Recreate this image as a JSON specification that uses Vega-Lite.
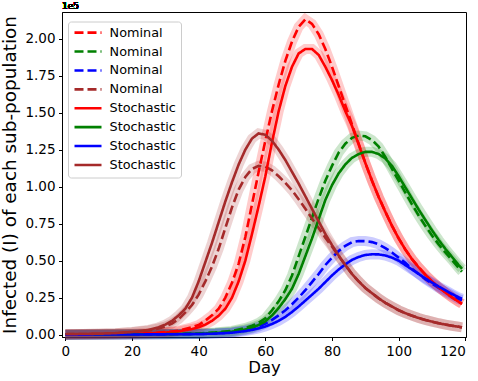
{
"$schema":"https://vega.github.io/schema/vega-lite/v6.json",
"width":404,"height":325,
"autosize":{"type":"none"},
"padding":{"left":62,"top":12,"right":12,"bottom":44},
"config":{"view":{"stroke":"#000","strokeWidth":1},"font":"DejaVu Sans",
"axis":{"grid":false,"labelFontSize":13.5,"titleFontSize":16.5,"tickSize":3.5,"labelPadding":3.5,"titleFontWeight":"normal","domainColor":"#000","tickColor":"#000","labelColor":"#000","titleColor":"#000","labelFont":"DejaVu Sans","titleFont":"DejaVu Sans"}},
"datasets":{"curves":[
{"day":0,"series":"Nominal red","I":100},{"day":10,"series":"Nominal red","I":200},{"day":15,"series":"Nominal red","I":400},{"day":20,"series":"Nominal red","I":600},{"day":25,"series":"Nominal red","I":1000},{"day":30,"series":"Nominal red","I":1700},{"day":34,"series":"Nominal red","I":2700},{"day":38,"series":"Nominal red","I":5000},{"day":40,"series":"Nominal red","I":6500},{"day":42,"series":"Nominal red","I":9500},{"day":44,"series":"Nominal red","I":13000},{"day":46,"series":"Nominal red","I":17500},{"day":48,"series":"Nominal red","I":25000},{"day":50,"series":"Nominal red","I":35000},{"day":52,"series":"Nominal red","I":48000},{"day":54,"series":"Nominal red","I":66000},{"day":56,"series":"Nominal red","I":88000},{"day":58,"series":"Nominal red","I":110000},{"day":60,"series":"Nominal red","I":131000},{"day":62,"series":"Nominal red","I":151000},{"day":64,"series":"Nominal red","I":169000},{"day":66,"series":"Nominal red","I":185000},{"day":68,"series":"Nominal red","I":198000},{"day":70,"series":"Nominal red","I":208000},{"day":72,"series":"Nominal red","I":213000},{"day":74,"series":"Nominal red","I":210000},{"day":76,"series":"Nominal red","I":203000},{"day":78,"series":"Nominal red","I":193000},{"day":80,"series":"Nominal red","I":181000},{"day":82,"series":"Nominal red","I":168000},{"day":84,"series":"Nominal red","I":155000},{"day":86,"series":"Nominal red","I":142000},{"day":88,"series":"Nominal red","I":129000},{"day":90,"series":"Nominal red","I":116000},{"day":92,"series":"Nominal red","I":104000},{"day":94,"series":"Nominal red","I":93000},{"day":96,"series":"Nominal red","I":83000},{"day":98,"series":"Nominal red","I":73500},{"day":100,"series":"Nominal red","I":65000},{"day":102,"series":"Nominal red","I":57500},{"day":104,"series":"Nominal red","I":51000},{"day":106,"series":"Nominal red","I":45500},{"day":108,"series":"Nominal red","I":40500},{"day":110,"series":"Nominal red","I":36000},{"day":112,"series":"Nominal red","I":32000},{"day":114,"series":"Nominal red","I":28500},{"day":116,"series":"Nominal red","I":25200},{"day":118,"series":"Nominal red","I":22200},{"day":119,"series":"Nominal red","I":20800},
{"day":0,"series":"Nominal green","I":0},{"day":10,"series":"Nominal green","I":100},{"day":20,"series":"Nominal green","I":200},{"day":30,"series":"Nominal green","I":400},{"day":40,"series":"Nominal green","I":800},{"day":45,"series":"Nominal green","I":1500},{"day":50,"series":"Nominal green","I":2500},{"day":54,"series":"Nominal green","I":4500},{"day":56,"series":"Nominal green","I":6000},{"day":58,"series":"Nominal green","I":8000},{"day":60,"series":"Nominal green","I":11000},{"day":62,"series":"Nominal green","I":16500},{"day":64,"series":"Nominal green","I":22500},{"day":66,"series":"Nominal green","I":30000},{"day":68,"series":"Nominal green","I":40000},{"day":70,"series":"Nominal green","I":53000},{"day":72,"series":"Nominal green","I":66000},{"day":74,"series":"Nominal green","I":79000},{"day":76,"series":"Nominal green","I":92000},{"day":78,"series":"Nominal green","I":104000},{"day":80,"series":"Nominal green","I":114000},{"day":82,"series":"Nominal green","I":123000},{"day":84,"series":"Nominal green","I":129000},{"day":86,"series":"Nominal green","I":133000},{"day":88,"series":"Nominal green","I":134500},{"day":90,"series":"Nominal green","I":134000},{"day":92,"series":"Nominal green","I":131500},{"day":94,"series":"Nominal green","I":127000},{"day":96,"series":"Nominal green","I":120000},{"day":98,"series":"Nominal green","I":112000},{"day":100,"series":"Nominal green","I":104000},{"day":102,"series":"Nominal green","I":96000},{"day":104,"series":"Nominal green","I":88000},{"day":106,"series":"Nominal green","I":80500},{"day":108,"series":"Nominal green","I":73500},{"day":110,"series":"Nominal green","I":67000},{"day":112,"series":"Nominal green","I":61000},{"day":114,"series":"Nominal green","I":55500},{"day":116,"series":"Nominal green","I":50500},{"day":118,"series":"Nominal green","I":45000},{"day":119,"series":"Nominal green","I":42500},
{"day":0,"series":"Nominal blue","I":0},{"day":20,"series":"Nominal blue","I":100},{"day":30,"series":"Nominal blue","I":200},{"day":40,"series":"Nominal blue","I":400},{"day":45,"series":"Nominal blue","I":700},{"day":50,"series":"Nominal blue","I":1500},{"day":54,"series":"Nominal blue","I":3000},{"day":56,"series":"Nominal blue","I":4000},{"day":58,"series":"Nominal blue","I":5500},{"day":60,"series":"Nominal blue","I":7500},{"day":62,"series":"Nominal blue","I":10000},{"day":64,"series":"Nominal blue","I":13000},{"day":66,"series":"Nominal blue","I":16500},{"day":68,"series":"Nominal blue","I":20500},{"day":70,"series":"Nominal blue","I":25000},{"day":72,"series":"Nominal blue","I":30000},{"day":74,"series":"Nominal blue","I":35500},{"day":76,"series":"Nominal blue","I":41000},{"day":78,"series":"Nominal blue","I":47000},{"day":80,"series":"Nominal blue","I":52000},{"day":82,"series":"Nominal blue","I":56500},{"day":84,"series":"Nominal blue","I":60000},{"day":86,"series":"Nominal blue","I":62500},{"day":88,"series":"Nominal blue","I":63300},{"day":90,"series":"Nominal blue","I":63200},{"day":92,"series":"Nominal blue","I":62500},{"day":94,"series":"Nominal blue","I":61000},{"day":96,"series":"Nominal blue","I":58500},{"day":98,"series":"Nominal blue","I":55500},{"day":100,"series":"Nominal blue","I":52000},{"day":102,"series":"Nominal blue","I":48500},{"day":104,"series":"Nominal blue","I":44500},{"day":106,"series":"Nominal blue","I":41000},{"day":108,"series":"Nominal blue","I":37500},{"day":110,"series":"Nominal blue","I":34500},{"day":112,"series":"Nominal blue","I":31500},{"day":114,"series":"Nominal blue","I":29000},{"day":116,"series":"Nominal blue","I":26500},{"day":118,"series":"Nominal blue","I":24000},{"day":119,"series":"Nominal blue","I":23200},
{"day":0,"series":"Nominal brown","I":300},{"day":5,"series":"Nominal brown","I":400},{"day":10,"series":"Nominal brown","I":600},{"day":15,"series":"Nominal brown","I":900},{"day":20,"series":"Nominal brown","I":1600},{"day":25,"series":"Nominal brown","I":2800},{"day":28,"series":"Nominal brown","I":4200},{"day":30,"series":"Nominal brown","I":5500},{"day":32,"series":"Nominal brown","I":7500},{"day":34,"series":"Nominal brown","I":10500},{"day":36,"series":"Nominal brown","I":15000},{"day":38,"series":"Nominal brown","I":20000},{"day":40,"series":"Nominal brown","I":27000},{"day":42,"series":"Nominal brown","I":36000},{"day":44,"series":"Nominal brown","I":46000},{"day":46,"series":"Nominal brown","I":58000},{"day":48,"series":"Nominal brown","I":72000},{"day":50,"series":"Nominal brown","I":86000},{"day":52,"series":"Nominal brown","I":98000},{"day":54,"series":"Nominal brown","I":106500},{"day":56,"series":"Nominal brown","I":112000},{"day":58,"series":"Nominal brown","I":114000},{"day":60,"series":"Nominal brown","I":113500},{"day":62,"series":"Nominal brown","I":111000},{"day":64,"series":"Nominal brown","I":107000},{"day":66,"series":"Nominal brown","I":102500},{"day":68,"series":"Nominal brown","I":97500},{"day":70,"series":"Nominal brown","I":91500},{"day":72,"series":"Nominal brown","I":85000},{"day":74,"series":"Nominal brown","I":78500},{"day":76,"series":"Nominal brown","I":72000},{"day":78,"series":"Nominal brown","I":65500},{"day":80,"series":"Nominal brown","I":59500},{"day":82,"series":"Nominal brown","I":53000},{"day":84,"series":"Nominal brown","I":47000},{"day":86,"series":"Nominal brown","I":41000},{"day":88,"series":"Nominal brown","I":36000},{"day":90,"series":"Nominal brown","I":31500},{"day":92,"series":"Nominal brown","I":28000},{"day":94,"series":"Nominal brown","I":24500},{"day":96,"series":"Nominal brown","I":21500},{"day":98,"series":"Nominal brown","I":19000},{"day":100,"series":"Nominal brown","I":16500},{"day":102,"series":"Nominal brown","I":14500},{"day":104,"series":"Nominal brown","I":12800},{"day":106,"series":"Nominal brown","I":11200},{"day":108,"series":"Nominal brown","I":9900},{"day":110,"series":"Nominal brown","I":8800},{"day":112,"series":"Nominal brown","I":7700},{"day":114,"series":"Nominal brown","I":6800},{"day":116,"series":"Nominal brown","I":6000},{"day":118,"series":"Nominal brown","I":5300},{"day":119,"series":"Nominal brown","I":4900},
{"day":0,"series":"Stochastic red","I":100},{"day":10,"series":"Stochastic red","I":200},{"day":15,"series":"Stochastic red","I":300},{"day":20,"series":"Stochastic red","I":500},{"day":25,"series":"Stochastic red","I":800},{"day":30,"series":"Stochastic red","I":1400},{"day":34,"series":"Stochastic red","I":2200},{"day":38,"series":"Stochastic red","I":3800},{"day":40,"series":"Stochastic red","I":5000},{"day":42,"series":"Stochastic red","I":6800},{"day":44,"series":"Stochastic red","I":9300},{"day":46,"series":"Stochastic red","I":12800},{"day":48,"series":"Stochastic red","I":17500},{"day":50,"series":"Stochastic red","I":25000},{"day":52,"series":"Stochastic red","I":36000},{"day":54,"series":"Stochastic red","I":50000},{"day":56,"series":"Stochastic red","I":68000},{"day":58,"series":"Stochastic red","I":87000},{"day":60,"series":"Stochastic red","I":107000},{"day":62,"series":"Stochastic red","I":130000},{"day":64,"series":"Stochastic red","I":151000},{"day":66,"series":"Stochastic red","I":168000},{"day":68,"series":"Stochastic red","I":181000},{"day":70,"series":"Stochastic red","I":190000},{"day":72,"series":"Stochastic red","I":193000},{"day":74,"series":"Stochastic red","I":193000},{"day":76,"series":"Stochastic red","I":189000},{"day":78,"series":"Stochastic red","I":181000},{"day":80,"series":"Stochastic red","I":172000},{"day":82,"series":"Stochastic red","I":162000},{"day":84,"series":"Stochastic red","I":151000},{"day":86,"series":"Stochastic red","I":141000},{"day":88,"series":"Stochastic red","I":128500},{"day":90,"series":"Stochastic red","I":116000},{"day":92,"series":"Stochastic red","I":104000},{"day":94,"series":"Stochastic red","I":93000},{"day":96,"series":"Stochastic red","I":83000},{"day":98,"series":"Stochastic red","I":73500},{"day":100,"series":"Stochastic red","I":65000},{"day":102,"series":"Stochastic red","I":57500},{"day":104,"series":"Stochastic red","I":51000},{"day":106,"series":"Stochastic red","I":45500},{"day":108,"series":"Stochastic red","I":40500},{"day":110,"series":"Stochastic red","I":36000},{"day":112,"series":"Stochastic red","I":32000},{"day":114,"series":"Stochastic red","I":28500},{"day":116,"series":"Stochastic red","I":25200},{"day":118,"series":"Stochastic red","I":22200},{"day":119,"series":"Stochastic red","I":20800},
{"day":0,"series":"Stochastic green","I":0},{"day":20,"series":"Stochastic green","I":200},{"day":30,"series":"Stochastic green","I":300},{"day":40,"series":"Stochastic green","I":600},{"day":45,"series":"Stochastic green","I":1100},{"day":50,"series":"Stochastic green","I":2000},{"day":54,"series":"Stochastic green","I":3500},{"day":56,"series":"Stochastic green","I":4700},{"day":58,"series":"Stochastic green","I":6500},{"day":60,"series":"Stochastic green","I":9000},{"day":62,"series":"Stochastic green","I":13000},{"day":64,"series":"Stochastic green","I":18000},{"day":66,"series":"Stochastic green","I":24000},{"day":68,"series":"Stochastic green","I":31000},{"day":70,"series":"Stochastic green","I":41000},{"day":72,"series":"Stochastic green","I":53000},{"day":74,"series":"Stochastic green","I":65000},{"day":76,"series":"Stochastic green","I":78000},{"day":78,"series":"Stochastic green","I":91000},{"day":80,"series":"Stochastic green","I":101000},{"day":82,"series":"Stochastic green","I":109000},{"day":84,"series":"Stochastic green","I":115000},{"day":86,"series":"Stochastic green","I":119500},{"day":88,"series":"Stochastic green","I":122000},{"day":90,"series":"Stochastic green","I":123500},{"day":92,"series":"Stochastic green","I":123500},{"day":94,"series":"Stochastic green","I":122000},{"day":96,"series":"Stochastic green","I":119000},{"day":98,"series":"Stochastic green","I":114000},{"day":100,"series":"Stochastic green","I":107000},{"day":102,"series":"Stochastic green","I":99500},{"day":104,"series":"Stochastic green","I":92000},{"day":106,"series":"Stochastic green","I":84500},{"day":108,"series":"Stochastic green","I":77500},{"day":110,"series":"Stochastic green","I":70500},{"day":112,"series":"Stochastic green","I":64000},{"day":114,"series":"Stochastic green","I":58000},{"day":116,"series":"Stochastic green","I":52500},{"day":118,"series":"Stochastic green","I":47000},{"day":119,"series":"Stochastic green","I":44500},
{"day":0,"series":"Stochastic blue","I":0},{"day":20,"series":"Stochastic blue","I":100},{"day":30,"series":"Stochastic blue","I":200},{"day":40,"series":"Stochastic blue","I":400},{"day":45,"series":"Stochastic blue","I":700},{"day":50,"series":"Stochastic blue","I":1300},{"day":54,"series":"Stochastic blue","I":2400},{"day":56,"series":"Stochastic blue","I":3200},{"day":58,"series":"Stochastic blue","I":4200},{"day":60,"series":"Stochastic blue","I":5500},{"day":62,"series":"Stochastic blue","I":7200},{"day":64,"series":"Stochastic blue","I":9300},{"day":66,"series":"Stochastic blue","I":12000},{"day":68,"series":"Stochastic blue","I":15300},{"day":70,"series":"Stochastic blue","I":19000},{"day":72,"series":"Stochastic blue","I":23000},{"day":74,"series":"Stochastic blue","I":27000},{"day":76,"series":"Stochastic blue","I":31000},{"day":78,"series":"Stochastic blue","I":35500},{"day":80,"series":"Stochastic blue","I":40000},{"day":82,"series":"Stochastic blue","I":44000},{"day":84,"series":"Stochastic blue","I":47500},{"day":86,"series":"Stochastic blue","I":50500},{"day":88,"series":"Stochastic blue","I":52500},{"day":90,"series":"Stochastic blue","I":53800},{"day":92,"series":"Stochastic blue","I":54300},{"day":94,"series":"Stochastic blue","I":54200},{"day":96,"series":"Stochastic blue","I":53500},{"day":98,"series":"Stochastic blue","I":52000},{"day":100,"series":"Stochastic blue","I":50000},{"day":102,"series":"Stochastic blue","I":47000},{"day":104,"series":"Stochastic blue","I":44000},{"day":106,"series":"Stochastic blue","I":41000},{"day":108,"series":"Stochastic blue","I":38000},{"day":110,"series":"Stochastic blue","I":35200},{"day":112,"series":"Stochastic blue","I":32500},{"day":114,"series":"Stochastic blue","I":30000},{"day":116,"series":"Stochastic blue","I":27500},{"day":118,"series":"Stochastic blue","I":25200},{"day":119,"series":"Stochastic blue","I":24300},
{"day":0,"series":"Stochastic brown","I":300},{"day":5,"series":"Stochastic brown","I":400},{"day":10,"series":"Stochastic brown","I":600},{"day":15,"series":"Stochastic brown","I":1000},{"day":20,"series":"Stochastic brown","I":1800},{"day":25,"series":"Stochastic brown","I":3200},{"day":28,"series":"Stochastic brown","I":5000},{"day":30,"series":"Stochastic brown","I":6800},{"day":32,"series":"Stochastic brown","I":9300},{"day":34,"series":"Stochastic brown","I":13000},{"day":36,"series":"Stochastic brown","I":17500},{"day":38,"series":"Stochastic brown","I":25000},{"day":40,"series":"Stochastic brown","I":36000},{"day":42,"series":"Stochastic brown","I":49000},{"day":44,"series":"Stochastic brown","I":62000},{"day":46,"series":"Stochastic brown","I":76000},{"day":48,"series":"Stochastic brown","I":90000},{"day":50,"series":"Stochastic brown","I":103000},{"day":52,"series":"Stochastic brown","I":115000},{"day":54,"series":"Stochastic brown","I":125000},{"day":56,"series":"Stochastic brown","I":132500},{"day":58,"series":"Stochastic brown","I":136000},{"day":60,"series":"Stochastic brown","I":135000},{"day":62,"series":"Stochastic brown","I":131000},{"day":64,"series":"Stochastic brown","I":125000},{"day":66,"series":"Stochastic brown","I":118000},{"day":68,"series":"Stochastic brown","I":110000},{"day":70,"series":"Stochastic brown","I":102000},{"day":72,"series":"Stochastic brown","I":93500},{"day":74,"series":"Stochastic brown","I":85000},{"day":76,"series":"Stochastic brown","I":76500},{"day":78,"series":"Stochastic brown","I":68000},{"day":80,"series":"Stochastic brown","I":60500},{"day":82,"series":"Stochastic brown","I":53500},{"day":84,"series":"Stochastic brown","I":47000},{"day":86,"series":"Stochastic brown","I":41000},{"day":88,"series":"Stochastic brown","I":36000},{"day":90,"series":"Stochastic brown","I":31500},{"day":92,"series":"Stochastic brown","I":28000},{"day":94,"series":"Stochastic brown","I":24500},{"day":96,"series":"Stochastic brown","I":21500},{"day":98,"series":"Stochastic brown","I":19000},{"day":100,"series":"Stochastic brown","I":16500},{"day":102,"series":"Stochastic brown","I":14500},{"day":104,"series":"Stochastic brown","I":12800},{"day":106,"series":"Stochastic brown","I":11200},{"day":108,"series":"Stochastic brown","I":9900},{"day":110,"series":"Stochastic brown","I":8800},{"day":112,"series":"Stochastic brown","I":7700},{"day":114,"series":"Stochastic brown","I":6800},{"day":116,"series":"Stochastic brown","I":6000},{"day":118,"series":"Stochastic brown","I":5300},{"day":119,"series":"Stochastic brown","I":4900}
]},
"data":{"name":"curves"},
"encoding":{
"x":{"field":"day","type":"quantitative","scale":{"domain":[-1,120.2],"nice":false,"zero":false},"axis":{"values":[0,20,40,60,80,100,120],"title":"Day","titlePadding":2}},
"y":{"field":"I","type":"quantitative","scale":{"domain":[-1600,218000],"nice":false,"zero":false},"axis":{"values":[0,25000,50000,75000,100000,125000,150000,175000,200000],"labelExpr":"format(datum.value/100000,'.2f')","title":"Infected (I) of each sub-population","titleFontSize":18.4,"titlePadding":5}}
},
"layer":[
{"mark":{"type":"line","strokeWidth":10,"opacity":0.2},
"encoding":{"stroke":{"field":"series","type":"nominal","legend":null,"scale":{"domain":["Stochastic red","Stochastic green","Stochastic blue","Stochastic brown","Nominal red","Nominal green","Nominal blue","Nominal brown"],"range":["#ff0000","#008000","#0000ff","#a52a2a","#ff0000","#008000","#0000ff","#a52a2a"]}}}},
{"mark":{"type":"line","strokeWidth":2.6},
"encoding":{
"color":{"field":"series","type":"nominal","scale":{"domain":["Nominal red","Nominal green","Nominal blue","Nominal brown","Stochastic red","Stochastic green","Stochastic blue","Stochastic brown"],"range":["#ff0000","#008000","#0000ff","#a52a2a","#ff0000","#008000","#0000ff","#a52a2a"]},"legend":{"orient":"none","legendX":6,"legendY":9.5,"title":null,"labelExpr":"split(datum.label,' ')[0]","symbolType":"stroke","symbolSize":729,"symbolStrokeWidth":2.6,"labelFontSize":12.8,"labelFont":"DejaVu Sans","labelColor":"#000","strokeColor":"#cccccc","fillColor":"rgba(255,255,255,0.8)","padding":5,"cornerRadius":3,"clipHeight":12.3,"rowPadding":5.9,"labelOffset":6.6}},
"strokeDash":{"field":"series","type":"nominal","scale":{"domain":["Nominal red","Nominal green","Nominal blue","Nominal brown","Stochastic red","Stochastic green","Stochastic blue","Stochastic brown"],"range":[[9,4],[9,4],[9,4],[9,4],[1,0],[1,0],[1,0],[1,0]]},"legend":{"orient":"none","legendX":6,"legendY":9.5,"title":null,"labelExpr":"split(datum.label,' ')[0]","symbolType":"stroke","symbolSize":729,"symbolStrokeWidth":2.6,"labelFontSize":12.8,"labelFont":"DejaVu Sans","labelColor":"#000","strokeColor":"#cccccc","fillColor":"rgba(255,255,255,0.8)","padding":5,"cornerRadius":3,"clipHeight":12.3,"rowPadding":5.9,"labelOffset":6.6}}
}},
{"mark":{"type":"text","text":"1e5","align":"left","baseline":"alphabetic","dy":-3.3,"fontSize":9,"font":"DejaVu Sans","color":"#000"},
"encoding":{"x":{"datum":-1},"y":{"datum":218000}}}
]
}
